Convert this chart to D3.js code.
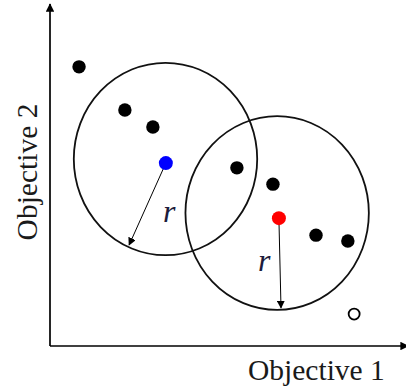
<!DOCTYPE html>
<html>
<head>
<meta charset="utf-8">
<script src="https://cdn.jsdelivr.net/npm/d3@7"></script>
<style>
  html, body { margin: 0; padding: 0; background: #fff; }
  text { font-family: "Liberation Serif", "Times New Roman", serif; }
</style>
</head>
<body>
<svg id="chart"></svg>
<script>
// solution points in objective space (0..100)
const pointsX = [8.3, 21.4, 29.4, 53.4, 63.7, 76.0, 85.1];
const pointsY = [82.1, 69.4, 64.4, 52.4, 47.6, 32.6, 30.9];

// the two selected individuals (blue, red)
const centerX = [33.1, 65.4];
const centerY = [53.8, 37.6];
const centerColor = ["#0000ff", "#ff0000"];

// niche circles around them
const nicheX = [33.0, 64.9];
const nicheY = [55.0, 39.1];
const nicheRX = [26.2, 26.2];
const nicheRY = [28.3, 28.5];

// where the radius arrows end
const arrowEndX = [22.6, 66.0];
const arrowEndY = [29.7, 11.2];

// dominated (open) point
const openX = [86.9];
const openY = [9.4];

const width = 406;
const height = 387;

const svg = d3.select("#chart")
  .attr("width", width)
  .attr("height", height);

const x = d3.scaleLinear().domain([0, 100]).range([50, 400]);
const y = d3.scaleLinear().domain([0, 100]).range([346, 6]);

// arrow markers
const defs = svg.append("defs");
defs.append("marker")
  .attr("id", "axisHead")
  .attr("viewBox", "0 0 10 10")
  .attr("refX", 9).attr("refY", 5)
  .attr("markerWidth", 5).attr("markerHeight", 5)
  .attr("markerUnits", "strokeWidth")
  .attr("orient", "auto")
  .append("path").attr("d", "M0,0 L10,5 L0,10 z").attr("fill", "#000");

defs.append("marker")
  .attr("id", "rHead")
  .attr("viewBox", "0 0 10 10")
  .attr("refX", 9).attr("refY", 5)
  .attr("markerWidth", 8).attr("markerHeight", 8)
  .attr("markerUnits", "userSpaceOnUse")
  .attr("orient", "auto")
  .append("path").attr("d", "M0,0 L10,5 L0,10 z").attr("fill", "#000");

// axes
svg.append("line")
  .attr("x1", x(0)).attr("y1", y(0))
  .attr("x2", x(0)).attr("y2", 4)
  .attr("stroke", "#000").attr("stroke-width", 1.7)
  .attr("marker-end", "url(#axisHead)");

svg.append("line")
  .attr("x1", x(0)).attr("y1", y(0))
  .attr("x2", 408).attr("y2", y(0))
  .attr("stroke", "#000").attr("stroke-width", 1.7)
  .attr("marker-end", "url(#axisHead)");

// niche circles
svg.selectAll(".niche")
  .data(nicheX.map((d, i) => i))
  .enter()
  .append("ellipse")
  .attr("class", "niche")
  .attr("cx", i => x(nicheX[i]))
  .attr("cy", i => y(nicheY[i]))
  .attr("rx", i => x(nicheRX[i]) - x(0))
  .attr("ry", i => y(0) - y(nicheRY[i]))
  .attr("fill", "none")
  .attr("stroke", "#111")
  .attr("stroke-width", 1.8);

// radius arrows
svg.selectAll(".radius")
  .data(centerX.map((d, i) => i))
  .enter()
  .append("line")
  .attr("class", "radius")
  .attr("x1", i => x(centerX[i]))
  .attr("y1", i => y(centerY[i]))
  .attr("x2", i => x(arrowEndX[i]))
  .attr("y2", i => y(arrowEndY[i]))
  .attr("stroke", "#000")
  .attr("stroke-width", 1)
  .attr("marker-end", "url(#rHead)");

// black points
svg.selectAll(".pt")
  .data(pointsX.map((d, i) => i))
  .enter()
  .append("circle")
  .attr("class", "pt")
  .attr("cx", i => x(pointsX[i]))
  .attr("cy", i => y(pointsY[i]))
  .attr("r", 6.7)
  .attr("fill", "#000");

// open point
svg.selectAll(".open")
  .data(openX.map((d, i) => i))
  .enter()
  .append("circle")
  .attr("class", "open")
  .attr("cx", i => x(openX[i]))
  .attr("cy", i => y(openY[i]))
  .attr("r", 5.5)
  .attr("fill", "#fff")
  .attr("stroke", "#000")
  .attr("stroke-width", 1.8);

// coloured centres
svg.selectAll(".center")
  .data(centerX.map((d, i) => i))
  .enter()
  .append("circle")
  .attr("class", "center")
  .attr("cx", i => x(centerX[i]))
  .attr("cy", i => y(centerY[i]))
  .attr("r", 7)
  .attr("fill", i => centerColor[i]);

// r labels
const rLabels = [[163, 222], [258, 271]];
svg.selectAll(".rlab")
  .data(rLabels)
  .enter()
  .append("text")
  .attr("class", "rlab")
  .attr("x", d => d[0])
  .attr("y", d => d[1])
  .attr("font-size", 32)
  .attr("font-style", "italic")
  .attr("fill", "#1c1c3c")
  .text("r");

// axis titles
svg.append("text")
  .attr("x", 248)
  .attr("y", 380)
  .attr("font-size", 29.5)
  .attr("fill", "#1a1a1a")
  .text("Objective 1");

svg.append("text")
  .attr("transform", "translate(37,172) rotate(-90)")
  .attr("text-anchor", "middle")
  .attr("font-size", 29.5)
  .attr("fill", "#1a1a1a")
  .text("Objective 2");
</script>
</body>
</html>
